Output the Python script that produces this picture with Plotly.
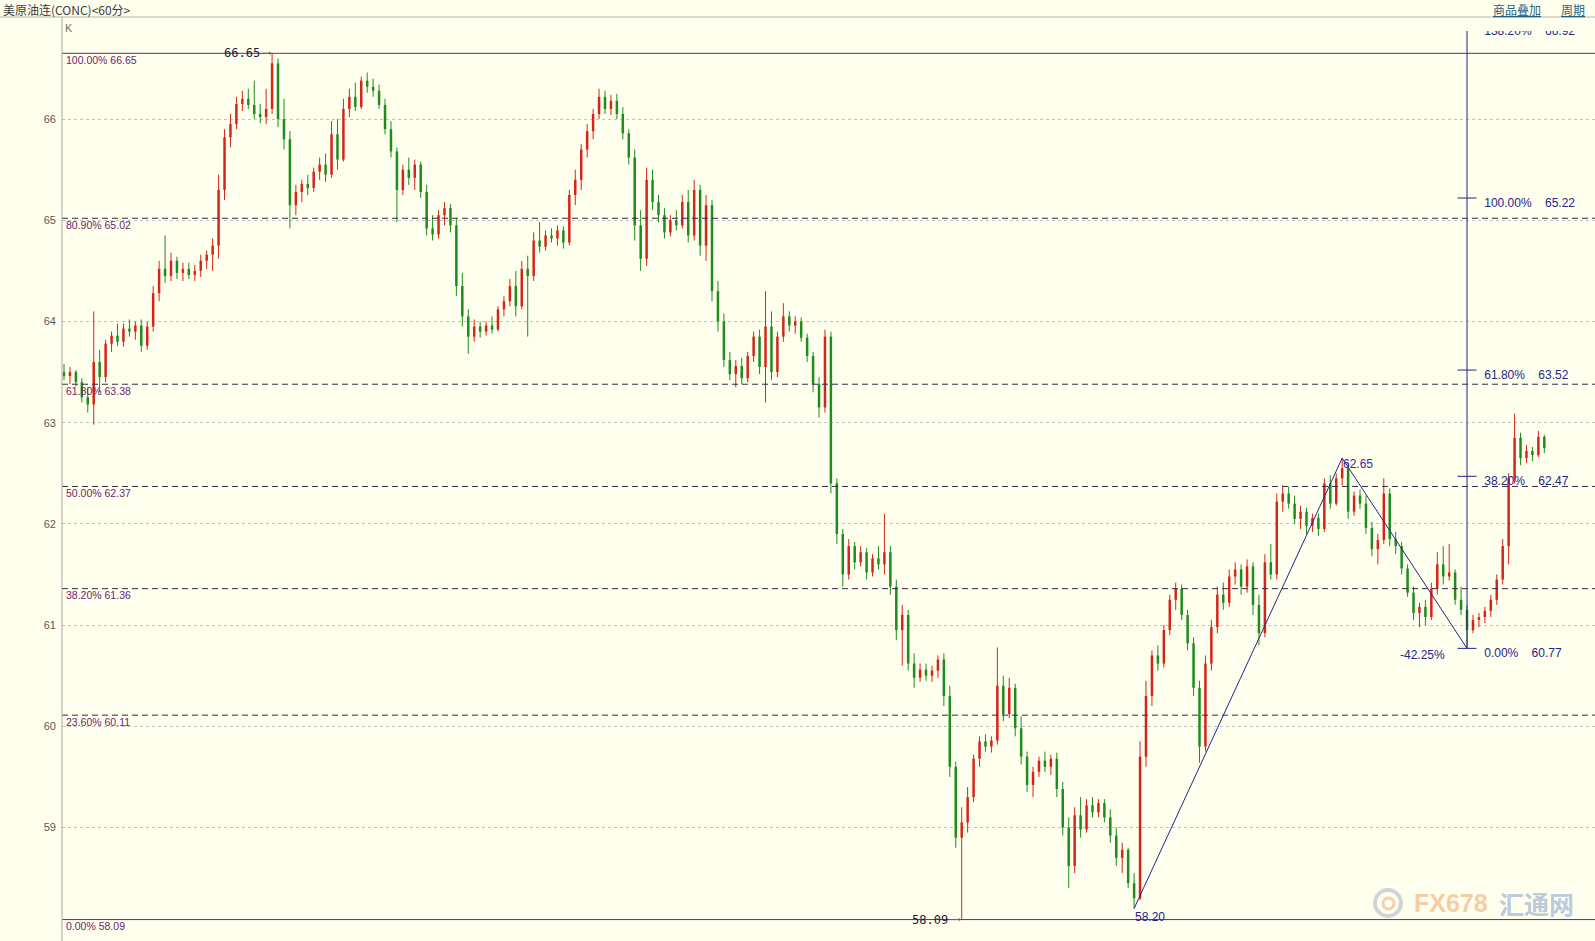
import plotly.graph_objects as go

# ---------------- data ----------------
opens = [63.50, 63.46, 63.50, 63.40, 63.25, 63.18, 63.60, 63.45, 63.78, 63.86,
         63.80, 63.93, 63.90, 63.96, 63.76, 63.95, 64.28, 64.52, 64.45, 64.60,
         64.48, 64.52, 64.46, 64.50, 64.60, 64.66, 64.75, 65.30, 65.82, 65.95,
         66.15, 66.20, 66.14, 66.05, 66.02, 66.10, 66.55, 66.00, 65.80, 65.15,
         65.28, 65.36, 65.32, 65.48, 65.55, 65.45, 65.85, 65.60, 66.10, 66.22,
         66.12, 66.38, 66.32, 66.28, 66.14, 65.90, 65.68, 65.30, 65.50, 65.42,
         65.55, 65.28, 64.92, 64.86, 65.05, 65.12, 64.95, 64.35, 64.05, 63.85,
         63.95, 63.90, 63.96, 63.92, 64.12, 64.20, 64.35, 64.15, 64.52, 64.45,
         64.80, 64.74, 64.85, 64.82, 64.90, 64.78, 65.25, 65.40, 65.70, 65.88,
         66.05, 66.22, 66.10, 66.18, 66.05, 65.86, 65.62, 64.95, 64.62, 65.40,
         65.18, 65.05, 64.88, 65.00, 64.95, 65.18, 64.85, 65.30, 64.75, 65.15,
         64.30, 64.00, 63.62, 63.48, 63.56, 63.44, 63.66, 63.85, 63.55, 63.95,
         63.50, 63.85, 64.05, 63.96, 64.00, 63.84, 63.66, 63.38, 63.15, 63.85,
         62.40, 61.90, 61.50, 61.78, 61.62, 61.72, 61.52, 61.66, 61.60, 61.72,
         61.38, 60.95, 61.10, 60.62, 60.48, 60.56, 60.50, 60.55, 60.66, 60.30,
         59.60, 58.90, 59.05, 59.30, 59.68, 59.85, 59.80, 59.86, 60.40, 60.12,
         60.38, 59.98, 59.70, 59.42, 59.55, 59.66, 59.60, 59.68, 59.38, 59.00,
         58.62, 59.12, 58.98, 59.22, 59.15, 59.24, 59.10, 58.92, 58.70, 58.78,
         58.45, 58.30, 59.70, 60.30, 60.70, 60.62, 60.95, 61.25, 61.36, 61.10,
         60.82, 60.38, 59.80, 60.62, 60.98, 61.30, 61.22, 61.48, 61.55, 61.38,
         61.58, 61.20, 60.92, 61.62, 61.50, 62.22, 62.30, 62.20, 62.05, 62.12,
         61.98, 62.06, 61.95, 62.40, 62.20, 62.45, 62.55, 62.12, 62.28, 62.20,
         61.96, 61.75, 61.84, 62.30, 61.85, 61.78, 61.56, 61.32, 61.12, 61.18,
         61.08, 61.36, 61.60, 61.48, 61.52, 61.25, 61.15, 60.95, 61.05, 61.08,
         61.14, 61.25, 61.45, 61.78, 62.45, 62.85, 62.65, 62.72, 62.68, 62.86]

highs = [63.58, 63.55, 63.52, 63.44, 63.35, 64.10, 63.72, 63.82, 63.90, 63.98,
         63.98, 64.02, 64.00, 64.02, 64.00, 64.35, 64.60, 64.85, 64.68, 64.64,
         64.58, 64.58, 64.56, 64.66, 64.70, 64.82, 65.45, 65.90, 66.05, 66.22,
         66.28, 66.30, 66.38, 66.15, 66.30, 66.65, 66.60, 66.20, 65.88, 65.35,
         65.40, 65.45, 65.52, 65.62, 65.66, 65.98, 66.00, 66.20, 66.30, 66.36,
         66.42, 66.46, 66.40, 66.34, 66.20, 65.98, 65.72, 65.55, 65.62, 65.60,
         65.58, 65.35, 65.05, 65.10, 65.18, 65.16, 65.02, 64.48, 64.12, 64.02,
         64.00, 64.00, 64.05, 64.15, 64.25, 64.42, 64.50, 64.60, 64.65, 64.88,
         64.98, 64.90, 64.92, 64.95, 64.94, 65.30, 65.50, 65.75, 65.95, 66.10,
         66.30, 66.28, 66.24, 66.25, 66.12, 65.90, 65.70, 65.10, 65.52, 65.50,
         65.25, 65.12, 65.05, 65.10, 65.25, 65.30, 65.40, 65.35, 65.25, 65.20,
         64.40, 64.08, 63.70, 63.62, 63.64, 63.70, 63.90, 63.92, 64.30, 64.10,
         63.90, 64.18, 64.10, 64.05, 64.04, 63.88, 63.70, 63.45, 63.92, 63.90,
         62.45, 61.95, 61.85, 61.82, 61.78, 61.76, 61.70, 61.78, 62.10, 61.78,
         61.45, 61.20, 61.15, 60.72, 60.62, 60.62, 60.60, 60.70, 60.72, 60.40,
         59.65, 59.20, 59.40, 59.72, 59.90, 59.92, 59.90, 60.78, 60.50, 60.48,
         60.42, 60.10, 59.75, 59.60, 59.70, 59.75, 59.72, 59.74, 59.45, 59.10,
         59.20, 59.30, 59.28, 59.30, 59.28, 59.28, 59.18, 59.00, 58.85, 58.80,
         58.55, 59.85, 60.45, 60.75, 60.80, 61.00, 61.30, 61.42, 61.40, 61.15,
         60.88, 60.45, 60.70, 61.05, 61.38, 61.42, 61.55, 61.62, 61.60, 61.65,
         61.62, 61.30, 61.70, 61.80, 62.30, 62.38, 62.37, 62.28, 62.18, 62.16,
         62.10, 62.10, 62.45, 62.48, 62.50, 62.65, 62.60, 62.32, 62.34, 62.28,
         62.02, 61.90, 62.45, 62.35, 61.92, 61.82, 61.60, 61.38, 61.22, 61.25,
         61.42, 61.72, 61.78, 61.80, 61.55, 61.38, 61.20, 61.10, 61.12, 61.18,
         61.30, 61.50, 61.85, 62.50, 63.09, 62.90, 62.78, 62.76, 62.92, 62.88]

lows = [63.42, 63.38, 63.36, 63.20, 63.10, 62.98, 63.30, 63.40, 63.70, 63.76,
        63.75, 63.85, 63.82, 63.70, 63.72, 63.90, 64.20, 64.38, 64.40, 64.42,
        64.40, 64.42, 64.40, 64.44, 64.52, 64.50, 64.62, 65.20, 65.72, 65.90,
        66.08, 66.10, 66.00, 65.96, 65.95, 66.05, 65.92, 65.70, 64.92, 65.05,
        65.18, 65.25, 65.28, 65.40, 65.38, 65.42, 65.50, 65.58, 66.02, 66.08,
        66.10, 66.26, 66.22, 66.10, 65.85, 65.62, 64.98, 65.25, 65.35, 65.30,
        65.22, 64.85, 64.80, 64.82, 64.95, 64.88, 64.25, 63.95, 63.68, 63.80,
        63.84, 63.86, 63.88, 63.90, 64.05, 64.15, 64.05, 64.12, 63.85, 64.40,
        64.68, 64.70, 64.78, 64.75, 64.72, 64.75, 65.15, 65.30, 65.62, 65.80,
        66.00, 66.05, 66.04, 66.00, 65.80, 65.55, 64.80, 64.50, 64.55, 65.10,
        64.98, 64.82, 64.84, 64.90, 64.92, 64.78, 64.80, 64.65, 64.60, 64.20,
        63.90, 63.55, 63.42, 63.35, 63.38, 63.40, 63.60, 63.48, 63.20, 63.42,
        63.45, 63.80, 63.90, 63.88, 63.80, 63.60, 63.30, 63.05, 63.10, 62.30,
        61.80, 61.38, 61.45, 61.55, 61.58, 61.45, 61.48, 61.55, 61.50, 61.30,
        60.85, 60.60, 60.55, 60.38, 60.44, 60.45, 60.44, 60.48, 60.20, 59.50,
        58.80, 58.09, 58.95, 59.25, 59.60, 59.75, 59.74, 59.82, 60.05, 60.08,
        59.90, 59.62, 59.35, 59.30, 59.50, 59.55, 59.52, 59.30, 58.92, 58.40,
        58.55, 58.90, 58.95, 59.10, 59.10, 59.05, 58.85, 58.62, 58.55, 58.40,
        58.20, 58.28, 59.60, 60.20, 60.55, 60.58, 60.90, 61.15, 61.05, 60.75,
        60.30, 59.64, 59.75, 60.55, 60.92, 61.15, 61.18, 61.40, 61.30, 61.32,
        61.10, 60.80, 60.88, 61.45, 61.45, 62.12, 62.15, 62.00, 61.95, 61.90,
        61.92, 61.88, 61.92, 62.15, 62.18, 62.38, 62.05, 62.08, 62.15, 61.90,
        61.68, 61.60, 61.80, 61.78, 61.70, 61.50, 61.28, 61.05, 60.98, 61.00,
        61.05, 61.30, 61.40, 61.44, 61.20, 61.10, 60.77, 60.92, 60.98, 61.02,
        61.08, 61.20, 61.40, 61.60, 62.40, 62.58, 62.60, 62.62, 62.66, 62.70]

closes = [63.46, 63.50, 63.40, 63.25, 63.18, 63.60, 63.45, 63.78, 63.86, 63.80,
          63.93, 63.90, 63.96, 63.76, 63.95, 64.28, 64.52, 64.45, 64.60, 64.48,
          64.52, 64.46, 64.50, 64.60, 64.66, 64.75, 65.30, 65.82, 65.95, 66.15,
          66.20, 66.14, 66.05, 66.02, 66.10, 66.55, 66.00, 65.80, 65.15, 65.28,
          65.36, 65.32, 65.48, 65.55, 65.45, 65.85, 65.60, 66.10, 66.22, 66.12,
          66.38, 66.32, 66.28, 66.14, 65.90, 65.68, 65.30, 65.50, 65.42, 65.55,
          65.28, 64.92, 64.86, 65.05, 65.12, 64.95, 64.35, 64.05, 63.85, 63.95,
          63.90, 63.96, 63.92, 64.12, 64.20, 64.35, 64.15, 64.52, 64.45, 64.80,
          64.74, 64.85, 64.82, 64.90, 64.78, 65.25, 65.40, 65.70, 65.88, 66.05,
          66.22, 66.10, 66.18, 66.05, 65.86, 65.62, 64.95, 64.62, 65.40, 65.18,
          65.05, 64.88, 65.00, 64.95, 65.18, 64.85, 65.30, 64.75, 65.15, 64.30,
          64.00, 63.62, 63.48, 63.56, 63.44, 63.66, 63.85, 63.55, 63.95, 63.50,
          63.85, 64.05, 63.96, 64.00, 63.84, 63.66, 63.38, 63.15, 63.85, 62.40,
          61.90, 61.50, 61.78, 61.62, 61.72, 61.52, 61.66, 61.60, 61.72, 61.38,
          60.95, 61.10, 60.62, 60.48, 60.56, 60.50, 60.55, 60.66, 60.30, 59.60,
          58.90, 59.05, 59.30, 59.68, 59.85, 59.80, 59.86, 60.40, 60.12, 60.38,
          59.98, 59.70, 59.42, 59.55, 59.66, 59.60, 59.68, 59.38, 59.00, 58.62,
          59.12, 58.98, 59.22, 59.15, 59.24, 59.10, 58.92, 58.70, 58.78, 58.45,
          58.30, 59.70, 60.30, 60.70, 60.62, 60.95, 61.25, 61.36, 61.10, 60.82,
          60.38, 59.80, 60.62, 60.98, 61.30, 61.22, 61.48, 61.55, 61.38, 61.58,
          61.20, 60.92, 61.62, 61.50, 62.22, 62.30, 62.20, 62.05, 62.12, 61.98,
          62.06, 61.95, 62.40, 62.20, 62.45, 62.55, 62.12, 62.28, 62.20, 61.96,
          61.75, 61.84, 62.30, 61.85, 61.78, 61.56, 61.32, 61.12, 61.18, 61.08,
          61.36, 61.60, 61.48, 61.52, 61.25, 61.15, 60.95, 61.05, 61.08, 61.14,
          61.25, 61.45, 61.78, 62.45, 62.85, 62.65, 62.72, 62.68, 62.86, 62.75]

price_ticks = [59, 60, 61, 62, 63, 64, 65, 66]
tick_labels = ["59", "60", "61", "62", "63", "64", "65", "66"]

fib_pcts = ["100.00%", "80.90%", "61.80%", "50.00%", "38.20%", "23.60%", "0.00%"]
fib_vals = [66.65, 65.02, 63.38, 62.37, 61.36, 60.11, 58.09]

tool_pcts = ["138.20%", "100.00%", "61.80%", "38.20%", "0.00%"]
tool_vals = [66.92, 65.22, 63.52, 62.47, 60.77]
tool_idx = 236

trend_idx = [180, 215, 236]
trend_vals = [58.20, 62.65, 60.77]
trend_pct = "-42.25%"

high_idx, high_val = 35, 66.65
low_idx, low_val = 151, 58.09

title_text = "美原油连(CONC)<60分>"
link_texts = ["商品叠加", "周期"]

# ---------------- style / layout ----------------
W, H = 1595, 941
ML, MT = 62, 31
PX_PER_IDX = 5.945
FIRST_PX = 64
PX_PER_PRICE = 101.2
TOP_LINE_PX = 53.3
BG = "#FFFFEE"
UP = "#d5261c"
DOWN = "#1f8c1f"
FIB_SOLID = "#6a2a6a"
FIB_DASH = "#3a2446"
FIB_TEXT = "#6e2470"
TOOL = "#24248c"

xmin = -(FIRST_PX - ML) / PX_PER_IDX
xmax = xmin + (W - ML) / PX_PER_IDX
ytop = fib_vals[0] + (TOP_LINE_PX - MT) / PX_PER_PRICE
ybot = ytop - (H - MT) / PX_PER_PRICE


def px_to_paper_x(px):
    return (px - ML) / (W - ML)


def px_to_paper_y(py):
    return (H - py) / (H - MT)


n = len(closes)
idx = list(range(n))
fig = go.Figure()

# wicks
for color, cond in ((UP, lambda o, c: c >= o), (DOWN, lambda o, c: c < o)):
    wx, wy = [], []
    for i in idx:
        if cond(opens[i], closes[i]):
            wx += [i, i, None]
            wy += [lows[i], highs[i], None]
    fig.add_trace(go.Scatter(x=wx, y=wy, mode="lines",
                             line=dict(color=color, width=1), hoverinfo="skip"))

# bodies
for color, cond in ((UP, lambda o, c: c >= o), (DOWN, lambda o, c: c < o)):
    bx, by, bb = [], [], []
    for i in idx:
        if cond(opens[i], closes[i]):
            bx.append(i)
            by.append(max(abs(closes[i] - opens[i]), 0.012))
            bb.append(min(opens[i], closes[i]))
    fig.add_trace(go.Bar(x=bx, y=by, base=bb, width=0.42,
                         marker=dict(color=color, line=dict(width=0)),
                         hoverinfo="skip"))

# trend lines
fig.add_trace(go.Scatter(x=trend_idx, y=trend_vals, mode="lines",
                         line=dict(color=TOOL, width=1), hoverinfo="skip"))

# fib tool labels (clipped to the plot area)
fig.add_trace(go.Scatter(
    x=[tool_idx + 2.9] * len(tool_vals), y=tool_vals, mode="text",
    text=[f"{p}\u00a0\u00a0\u00a0\u00a0{v:.2f}" for p, v in zip(tool_pcts, tool_vals)],
    textposition="bottom right", cliponaxis=True,
    textfont=dict(family="Liberation Sans, Arial", size=12, color=TOOL),
    hoverinfo="skip"))

shapes = []
# fib level lines
for k, v in enumerate(fib_vals):
    solid = k == 0 or k == len(fib_vals) - 1
    shapes.append(dict(type="line", xref="paper", yref="y", x0=0, x1=1, y0=v, y1=v,
                       line=dict(color=FIB_SOLID if solid else FIB_DASH, width=1,
                                 dash="solid" if solid else "6px,4px"), layer="above"))
# fib tool vertical + ticks
shapes.append(dict(type="line", xref="x", yref="y", x0=tool_idx, x1=tool_idx,
                   y0=tool_vals[-1], y1=tool_vals[0], line=dict(color=TOOL, width=1)))
for v in tool_vals:
    shapes.append(dict(type="line", xref="x", yref="y", x0=tool_idx - 1.6, x1=tool_idx + 1.6,
                       y0=v, y1=v, line=dict(color=TOOL, width=1)))
# header separator and left axis line
shapes.append(dict(type="line", xref="paper", yref="paper", x0=px_to_paper_x(0), x1=1,
                   y0=px_to_paper_y(17), y1=px_to_paper_y(17),
                   line=dict(color="#b4b4b4", width=1)))
shapes.append(dict(type="line", xref="paper", yref="paper", x0=0, x1=0,
                   y0=0, y1=px_to_paper_y(17), line=dict(color="#a8a8a8", width=1)))
# watermark logo circle
shapes.append(dict(type="circle", xref="paper", yref="paper",
                   x0=px_to_paper_x(1375), x1=px_to_paper_x(1401),
                   y0=px_to_paper_y(916), y1=px_to_paper_y(890),
                   line=dict(color="#cfd4db", width=4)))
shapes.append(dict(type="circle", xref="paper", yref="paper",
                   x0=px_to_paper_x(1383), x1=px_to_paper_x(1394),
                   y0=px_to_paper_y(909), y1=px_to_paper_y(898),
                   line=dict(color="#f6cfae", width=3)))

ann = []
for p, v in zip(fib_pcts, fib_vals):
    ann.append(dict(xref="paper", yref="y", x=0, y=v, xanchor="left", yanchor="middle",
                    xshift=2, yshift=-6.5, showarrow=False, text=f"{p} {v:.2f}",
                    font=dict(family="Liberation Sans, Arial", size=10.5, color=FIB_TEXT)))

# high / low markers
ann.append(dict(xref="x", yref="y", x=high_idx, y=high_val, text=f"{high_val:.2f}",
                showarrow=True, ax=-30, ay=0, arrowhead=2, arrowsize=0.6, arrowwidth=1,
                arrowcolor="#666666",
                font=dict(family="DejaVu Sans Mono, monospace", size=12, color="#1c1c3c")))
ann.append(dict(xref="x", yref="y", x=low_idx, y=low_val, text=f"{low_val:.2f}",
                showarrow=True, ax=-32, ay=0, arrowhead=2, arrowsize=0.6, arrowwidth=1,
                arrowcolor="#666666",
                font=dict(family="DejaVu Sans Mono, monospace", size=12, color="#1c1c3c")))

# trend labels
ann.append(dict(xref="x", yref="y", x=trend_idx[1], y=trend_vals[1], text=f"{trend_vals[1]:.2f}",
                xanchor="left", yanchor="middle", yshift=-6, xshift=-1, showarrow=False,
                font=dict(family="Liberation Sans, Arial", size=12, color="#3a2a9a")))
ann.append(dict(xref="x", yref="y", x=trend_idx[0], y=trend_vals[0], text=f"{trend_vals[0]:.2f}",
                xanchor="left", yanchor="middle", yshift=-9, xshift=-1, showarrow=False,
                font=dict(family="Liberation Sans, Arial", size=12, color=TOOL)))
ann.append(dict(xref="x", yref="y", x=trend_idx[2], y=trend_vals[2], text=trend_pct,
                xanchor="right", yanchor="middle", xshift=-20, yshift=-7, showarrow=False,
                font=dict(family="Liberation Sans, Arial", size=12, color=TOOL)))

# header texts
ann.append(dict(xref="paper", yref="paper", x=px_to_paper_x(1), y=px_to_paper_y(9),
                xanchor="left", yanchor="middle", showarrow=False, text=title_text,
                font=dict(family="Noto Sans CJK SC, sans-serif", size=12, color="#3c3c3c")))
ann.append(dict(xref="paper", yref="paper", x=px_to_paper_x(1491), y=px_to_paper_y(9),
                xanchor="left", yanchor="middle", showarrow=False,
                text=f"<u>{link_texts[0]}</u>",
                font=dict(family="Noto Sans CJK SC, sans-serif", size=12, color="#1f5f86")))
ann.append(dict(xref="paper", yref="paper", x=px_to_paper_x(1559), y=px_to_paper_y(9),
                xanchor="left", yanchor="middle", showarrow=False,
                text=f"<u>{link_texts[1]}</u>",
                font=dict(family="Noto Sans CJK SC, sans-serif", size=12, color="#1f5f86")))
ann.append(dict(xref="paper", yref="paper", x=px_to_paper_x(63), y=px_to_paper_y(28),
                xanchor="left", yanchor="middle", showarrow=False, text="K",
                font=dict(family="Liberation Sans, Arial", size=11, color="#707070")))

# watermark
ann.append(dict(xref="paper", yref="paper", x=px_to_paper_x(1412), y=px_to_paper_y(903),
                xanchor="left", yanchor="middle", showarrow=False, text="<b>FX678</b>",
                font=dict(family="Liberation Sans, Arial", size=25, color="#f7cda6")))
ann.append(dict(xref="paper", yref="paper", x=px_to_paper_x(1497), y=px_to_paper_y(903),
                xanchor="left", yanchor="middle", showarrow=False, text="<b>汇通网</b>",
                font=dict(family="Noto Sans CJK SC", size=25, color="#bccbdc")))

fig.update_layout(
    width=W, height=H,
    margin=dict(l=ML, r=0, t=MT, b=0, pad=0),
    paper_bgcolor=BG, plot_bgcolor=BG,
    showlegend=False, hovermode=False, barmode="overlay",
    shapes=shapes, annotations=ann,
    xaxis=dict(range=[xmin, xmax], showgrid=False, zeroline=False, showline=False,
               showticklabels=False, ticks="", fixedrange=True),
    yaxis=dict(range=[ybot, ytop], tickvals=price_ticks, ticktext=tick_labels,
               showgrid=True, gridcolor="#c2c2c2", griddash="dot", gridwidth=1,
               zeroline=False, showline=False, ticks="", ticklabelstandoff=5,
               tickfont=dict(family="Liberation Sans, Arial", size=11, color="#5a5a5a"),
               fixedrange=True),
)

fig.write_html("out.html", config={"displayModeBar": False},
               post_script="document.body.style.margin='0';document.body.style.overflow='hidden';")
